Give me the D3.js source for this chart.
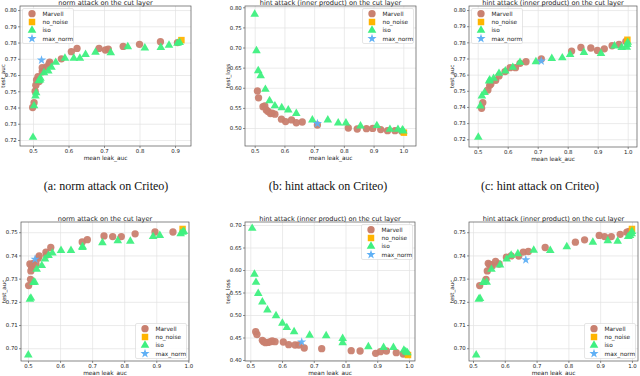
<!DOCTYPE html>
<html>
<head>
<meta charset="utf-8">
<script src="https://cdn.jsdelivr.net/npm/d3@7"></script>
<style>
  html, body { margin: 0; padding: 0; background: #fff; }
  svg { display: block; }
</style>
</head>
<body>
<svg id="chart" width="640" height="376"></svg>
<script>
// ---------------- data ----------------
const seriesNames = ["Marvell", "no_noise", "iso", "max_norm"];
const titles = ["norm attack on the cut layer", "hint attack (inner product) on the cut layer", "hint attack (inner product) on the cut layer",
                "norm attack on the cut layer", "hint attack (inner product) on the cut layer", "hint attack (inner product) on the cut layer"];
const yLabels = ["test_auc", "test_loss", "test_auc", "test_auc", "test_loss", "test_auc"];
const xLabel = "mean leak_auc";
const captions = ["(a: norm attack on Criteo)", "(b: hint attack on Criteo)", "(c: hint attack on Criteo)"];

const xTicksA = [0.5, 0.6, 0.7, 0.8, 0.9];
const xTicksFull = [0.5, 0.6, 0.7, 0.8, 0.9, 1.0];
const yTicksTopAuc = [0.72, 0.73, 0.74, 0.75, 0.76, 0.77, 0.78, 0.79, 0.80];
const yTicksTopLoss = [0.50, 0.55, 0.60, 0.65, 0.70, 0.75, 0.80];
const yTicksBotAuc = [0.70, 0.71, 0.72, 0.73, 0.74, 0.75];
const yTicksBotLoss = [0.40, 0.45, 0.50, 0.55, 0.60, 0.65, 0.70];

// Panel a
const marvellA = [[0.499,0.740],[0.503,0.743],[0.506,0.750],[0.508,0.7537],[0.510,0.757],[0.514,0.759],[0.517,0.756],[0.526,0.762],[0.526,0.7645],[0.538,0.765],[0.545,0.7668],[0.547,0.768],[0.580,0.770],[0.608,0.7744],[0.624,0.7764],[0.686,0.7764],[0.704,0.7754],[0.712,0.776],[0.754,0.7776],[0.800,0.7789],[0.859,0.7805],[0.907,0.780]];
const noNoiseA = [[0.918,0.7815]];
const isoA = [[0.500,0.7216],[0.503,0.741],[0.507,0.747],[0.509,0.749],[0.516,0.7565],[0.520,0.757],[0.521,0.758],[0.531,0.7614],[0.543,0.7625],[0.552,0.7647],[0.564,0.7678],[0.590,0.7703],[0.615,0.7703],[0.632,0.7703],[0.648,0.7727],[0.676,0.774],[0.719,0.7737],[0.767,0.7774],[0.815,0.7766],[0.860,0.777],[0.883,0.7783],[0.907,0.7795],[0.913,0.780]];
const maxNormA = [[0.524,0.7692]];

// Panel b
const marvellB = [[0.509,0.592],[0.513,0.575],[0.528,0.553],[0.534,0.555],[0.539,0.545],[0.545,0.541],[0.553,0.536],[0.559,0.537],[0.568,0.5345],[0.590,0.522],[0.604,0.516],[0.624,0.520],[0.640,0.513],[0.660,0.515],[0.711,0.5075],[0.815,0.500],[0.845,0.4975],[0.876,0.4983],[0.897,0.499],[0.924,0.496],[0.947,0.4934],[0.972,0.4934],[0.995,0.4917]];
const noNoiseB = [[1.002,0.4884]];
const isoB = [[0.500,0.7826],[0.506,0.692],[0.512,0.6425],[0.520,0.630],[0.536,0.596],[0.550,0.568],[0.568,0.555],[0.591,0.5505],[0.613,0.545],[0.640,0.536],[0.694,0.520],[0.746,0.520],[0.781,0.5124],[0.807,0.5124],[0.856,0.505],[0.911,0.506],[0.955,0.4967],[0.982,0.4967],[0.997,0.495],[1.000,0.4925]];
const maxNormB = [[0.711,0.511]];

// Panel c
const marvellC = [[0.513,0.7392],[0.517,0.7427],[0.534,0.7505],[0.540,0.7534],[0.544,0.7542],[0.560,0.7565],[0.571,0.7592],[0.591,0.7619],[0.608,0.7643],[0.626,0.7643],[0.641,0.767],[0.661,0.768],[0.712,0.7697],[0.813,0.7746],[0.844,0.7768],[0.877,0.7765],[0.899,0.775],[0.922,0.776],[0.948,0.7779],[0.971,0.7787],[0.994,0.7806]];
const noNoiseC = [[0.999,0.7816]];
const isoC = [[0.502,0.7212],[0.509,0.7406],[0.514,0.7468],[0.523,0.749],[0.538,0.756],[0.540,0.7567],[0.553,0.7577],[0.571,0.7608],[0.592,0.7623],[0.617,0.7645],[0.641,0.7676],[0.694,0.768],[0.747,0.770],[0.782,0.7704],[0.808,0.7724],[0.854,0.7737],[0.911,0.7731],[0.956,0.7777],[0.980,0.7768],[0.997,0.777],[0.999,0.7787],[1.000,0.780]];
const maxNormC = [[0.712,0.7684]];

// Panel d
const marvellD = [[0.502,0.727],[0.508,0.7297],[0.509,0.7333],[0.506,0.7363],[0.511,0.735],[0.513,0.736],[0.517,0.7366],[0.525,0.7363],[0.532,0.7388],[0.535,0.7398],[0.556,0.7414],[0.558,0.7402],[0.571,0.7434],[0.669,0.7458],[0.685,0.7468],[0.737,0.7484],[0.764,0.7481],[0.791,0.7481],[0.834,0.7493],[0.896,0.7501],[0.952,0.7501]];
const noNoiseD = [[0.982,0.7514]];
const isoD = [[0.501,0.6971],[0.506,0.7211],[0.509,0.7216],[0.517,0.7283],[0.521,0.7284],[0.527,0.734],[0.543,0.7356],[0.553,0.7385],[0.564,0.740],[0.576,0.741],[0.603,0.7421],[0.634,0.7421],[0.670,0.7434],[0.670,0.7438],[0.732,0.7455],[0.780,0.7463],[0.819,0.7461],[0.890,0.7481],[0.911,0.7486],[0.976,0.7493],[0.982,0.750],[0.986,0.7503]];
const maxNormD = [[0.522,0.7384]];

// Panel e
const marvellE = [[0.517,0.463],[0.521,0.4567],[0.538,0.4437],[0.542,0.4407],[0.548,0.4385],[0.556,0.439],[0.564,0.4407],[0.569,0.4422],[0.578,0.4407],[0.604,0.440],[0.621,0.434],[0.641,0.4333],[0.653,0.4333],[0.670,0.4267],[0.725,0.4252],[0.818,0.4207],[0.846,0.420],[0.895,0.4148],[0.910,0.4185],[0.929,0.420],[0.960,0.4163],[0.982,0.4133],[0.992,0.4141]];
const noNoiseE = [[0.997,0.4111]];
const isoE = [[0.506,0.6926],[0.513,0.5904],[0.518,0.5726],[0.525,0.548],[0.538,0.529],[0.554,0.511],[0.581,0.4985],[0.601,0.4815],[0.615,0.472],[0.638,0.463],[0.687,0.455],[0.739,0.454],[0.791,0.448],[0.791,0.4385],[0.872,0.4296],[0.920,0.428],[0.951,0.428],[0.984,0.422],[0.990,0.4185],[0.995,0.416]];
const maxNormE = [[0.662,0.440]];

// Panel f
const marvellF = [[0.521,0.727],[0.541,0.7297],[0.545,0.7333],[0.548,0.7366],[0.552,0.736],[0.557,0.736],[0.561,0.7356],[0.571,0.7374],[0.582,0.7363],[0.605,0.7392],[0.620,0.7398],[0.644,0.7397],[0.658,0.7414],[0.674,0.7417],[0.727,0.7434],[0.822,0.7457],[0.851,0.7467],[0.897,0.7486],[0.914,0.7481],[0.935,0.7481],[0.963,0.7491],[0.984,0.750],[0.991,0.7503]];
const noNoiseF = [[1.000,0.7514]];
const isoF = [[0.510,0.6971],[0.518,0.7211],[0.522,0.7214],[0.532,0.7283],[0.543,0.7284],[0.558,0.734],[0.585,0.7359],[0.606,0.7384],[0.620,0.7401],[0.641,0.7407],[0.691,0.7422],[0.743,0.7421],[0.795,0.7437],[0.877,0.7457],[0.924,0.7463],[0.955,0.7461],[0.988,0.7481],[0.994,0.7486],[0.999,0.7493],[1.000,0.7503]];
const maxNormF = [[0.666,0.7381]];

// ---------------- layout & style ----------------
const colors = { Marvell: "#c9806f", no_noise: "#ffb400", iso: "#3ef07f", max_norm: "#5fb0f5" };
const textColor = "#1a1a1a";
const panels = [
  { frame: [20, 6, 191, 146], xd: [0.4634, 0.945], yd: [0.7163, 0.8025], xt: xTicksA, yt: yTicksTopAuc, leg: "ul",
    data: [marvellA, noNoiseA, isoA, maxNormA] },
  { frame: [245, 6, 416, 146], xd: [0.4674, 1.0427], yd: [0.4553, 0.8032], xt: xTicksFull, yt: yTicksTopLoss, leg: "ur",
    data: [marvellB, noNoiseB, isoB, maxNormB] },
  { frame: [469, 6, 637, 147], xd: [0.471, 1.031], yd: [0.7152, 0.8025], xt: xTicksFull, yt: yTicksTopAuc, leg: "ul",
    data: [marvellC, noNoiseC, isoC, maxNormC] },
  { frame: [21, 222, 189, 361], xd: [0.4782, 1.002], yd: [0.6945, 0.7544], xt: xTicksFull, yt: yTicksBotAuc, leg: "lr",
    data: [marvellD, noNoiseD, isoD, maxNormD] },
  { frame: [245, 222, 415, 361], xd: [0.4833, 1.019], yd: [0.3978, 0.7067], xt: xTicksFull, yt: yTicksBotLoss, leg: "ur",
    data: [marvellE, noNoiseE, isoE, maxNormE] },
  { frame: [469, 222, 638, 361], xd: [0.4874, 1.019], yd: [0.6945, 0.7544], xt: xTicksFull, yt: yTicksBotAuc, leg: "lr",
    data: [marvellF, noNoiseF, isoF, maxNormF] }
];

const svg = d3.select("#chart");
svg.append("rect").attr("width", 640).attr("height", 376).attr("fill", "#fff");

const symbolFor = {
  Marvell: d3.symbol().type(d3.symbolCircle).size(42),
  no_noise: d3.symbol().type(d3.symbolSquare).size(42),
  iso: d3.symbol().type(d3.symbolTriangle).size(32),
  max_norm: d3.symbol().type(d3.symbolStar).size(26)
};

const font = "DejaVu Sans, sans-serif";

panels.forEach((p, i) => {
  const [l, t, r, b] = p.frame;
  const x = d3.scaleLinear().domain(p.xd).range([l, r]);
  const y = d3.scaleLinear().domain(p.yd).range([b, t]);
  const g = svg.append("g");

  // grid
  g.append("g").attr("transform", `translate(0,${b})`)
    .call(d3.axisBottom(x).tickValues(p.xt).tickSize(-(b - t)).tickFormat(""))
    .call(s => s.select(".domain").remove())
    .call(s => s.selectAll("line").attr("stroke", "#e2e2e2").attr("stroke-width", 0.7));
  g.append("g").attr("transform", `translate(${l},0)`)
    .call(d3.axisLeft(y).tickValues(p.yt).tickSize(-(r - l)).tickFormat(""))
    .call(s => s.select(".domain").remove())
    .call(s => s.selectAll("line").attr("stroke", "#e2e2e2").attr("stroke-width", 0.7));

  // axes with labels
  g.append("g").attr("transform", `translate(0,${b})`)
    .call(d3.axisBottom(x).tickValues(p.xt).tickSize(2).tickPadding(1.2).tickFormat(d3.format(".1f")))
    .call(s => s.select(".domain").remove())
    .call(s => s.selectAll("line").attr("stroke", "#444").attr("stroke-width", 0.6))
    .call(s => s.selectAll("text").attr("font-size", 5.4).attr("fill", textColor).attr("font-family", font));
  g.append("g").attr("transform", `translate(${l},0)`)
    .call(d3.axisLeft(y).tickValues(p.yt).tickSize(2).tickPadding(1.2).tickFormat(d3.format(".2f")))
    .call(s => s.select(".domain").remove())
    .call(s => s.selectAll("line").attr("stroke", "#444").attr("stroke-width", 0.6))
    .call(s => s.selectAll("text").attr("font-size", 5.4).attr("fill", textColor).attr("font-family", font));

  // points
  p.data.forEach((pts, si) => {
    const name = seriesNames[si];
    g.append("g").selectAll("path").data(pts).join("path")
      .attr("d", symbolFor[name])
      .attr("transform", d => `translate(${x(d[0])},${y(d[1])})`)
      .attr("fill", colors[name]).attr("fill-opacity", 0.95);
  });

  // frame
  g.append("rect").attr("x", l).attr("y", t).attr("width", r - l).attr("height", b - t)
    .attr("fill", "none").attr("stroke", "#555").attr("stroke-width", 0.7);

  // title, labels
  g.append("text").attr("x", (l + r) / 2).attr("y", t - 1.2).attr("text-anchor", "middle")
    .attr("font-family", font).attr("fill", textColor).attr("font-size", 6.6).text(titles[i]);
  g.append("text").attr("x", (l + r) / 2).attr("y", b + 14).attr("text-anchor", "middle")
    .attr("font-family", font).attr("fill", textColor).attr("font-size", 5.8).text(xLabel);
  g.append("text").attr("transform", `translate(${l - 15.3},${(t + b) / 2}) rotate(-90)`)
    .attr("text-anchor", "middle").attr("font-family", font).attr("fill", textColor)
    .attr("font-size", 5.6).text(yLabels[i]);

  // legend
  const lw = 51, lh = 35, pad = 2.5;
  const lx = p.leg === "ul" ? l + pad : r - pad - lw;
  const ly = p.leg === "lr" ? b - pad - lh : t + pad;
  const lg = g.append("g").attr("transform", `translate(${lx},${ly})`);
  lg.append("rect").attr("width", lw).attr("height", lh).attr("rx", 1.5)
    .attr("fill", "#fff").attr("fill-opacity", 0.85).attr("stroke", "#d5d5d5").attr("stroke-width", 0.6);
  seriesNames.forEach((name, k) => {
    const yy = 5.2 + k * 8.3;
    lg.append("path").attr("d", symbolFor[name]).attr("transform", `translate(9.5,${yy})`).attr("fill", colors[name]);
    lg.append("text").attr("x", 20).attr("y", yy + 2.1).attr("font-family", font).attr("fill", textColor)
      .attr("font-size", 5.8).text(name);
  });
});

// captions
captions.forEach((c, i) => {
  svg.append("text")
    .attr("x", [106, 328, 540][i]).attr("y", 189.5).attr("text-anchor", "middle")
    .attr("font-family", "Liberation Serif, Times New Roman, serif").attr("fill", "#111")
    .attr("font-size", 12).text(c);
});
</script>
</body>
</html>
